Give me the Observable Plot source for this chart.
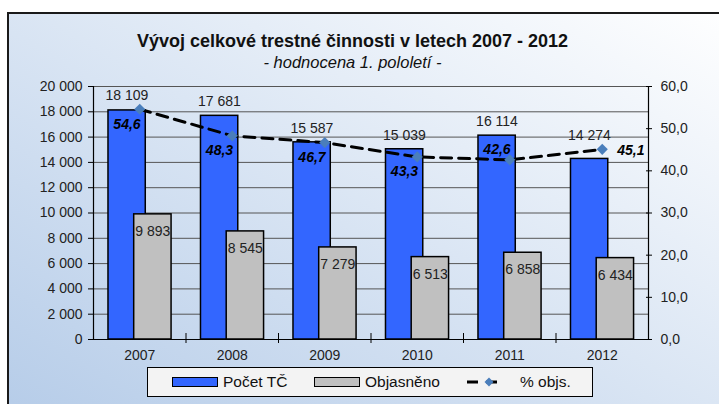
<!DOCTYPE html>
<html>
<head>
<meta charset="utf-8">
<script src="https://cdn.jsdelivr.net/npm/d3@7"></script>
<script src="https://cdn.jsdelivr.net/npm/@observablehq/plot@0.6"></script>
<style>
  html, body { margin: 0; padding: 0; background: #fff; }
  #wrap { position: relative; width: 719px; height: 404px; overflow: hidden; font-family: "Liberation Sans", Arial, sans-serif; }
  #frame { position: absolute; left: 7px; top: 12px; width: 730px; height: 420px; border-top: 2px solid #1a1a1a; border-left: 2px solid #1a1a1a; background: linear-gradient(to top right, #b4cbe8, #ffffff); }
  #title { position: absolute; left: 0; width: 705px; top: 31px; text-align: center; font-weight: bold; font-size: 18px; color: #111; }
  #subtitle { position: absolute; left: 0; width: 705px; top: 53px; text-align: center; font-style: italic; font-size: 16.5px; color: #111; }
  #chart { position: absolute; left: 0; top: 0; }
  #legend { position: absolute; left: 147px; top: 367px; width: 444px; height: 28px; border: 1px solid #000; background: #f3f3f3; font-size: 15.5px; color: #111; }
  .sw { position: absolute; top: 9px; width: 44px; height: 8px; border: 1.5px solid #000; }
  .lt { position: absolute; top: 5px; white-space: nowrap; }
</style>
</head>
<body>
<div id="wrap">
  <div id="frame"></div>
  <div id="chart"></div>
  <div id="title">Vývoj celkové trestné činnosti v letech 2007 - 2012</div>
  <div id="subtitle">- hodnocena 1. pololetí -</div>
  <div id="legend"></div>
</div>
<script>
// ---- data ----
const years = ["2007", "2008", "2009", "2010", "2011", "2012"];
const pocetTC = [18109, 17681, 15587, 15039, 16114, 14274];
const objasneno = [9893, 8545, 7279, 6513, 6858, 6434];
const pctObjs = [54.6, 48.3, 46.7, 43.3, 42.6, 45.1];
const leftTicks = [0, 2000, 4000, 6000, 8000, 10000, 12000, 14000, 16000, 18000, 20000];
const rightTicks = [0, 10, 20, 30, 40, 50, 60];
const seriesNames = ["Počet TČ", "Objasněno", "% objs."];
const colors = {pocet: "#3366FF", obj: "#C0C0C0", line: "#000000", marker: "#4A7EBB"};

// ---- derived ----
const leftMax = 20000, rightMax = 60;
const ratio = leftMax / rightMax;
const rows = years.map((y, i) => ({i, year: y, pocet: pocetTC[i], obj: objasneno[i], pct: pctObjs[i], pctY: pctObjs[i] * ratio}));
const loc = d3.formatLocale({decimal: ",", thousands: " ", grouping: [3], currency: ["", ""]});
const fmtInt = loc.format(",d");
const fmt1 = loc.format(".1f");
const bounds = d3.range(0.5, years.length - 0.5, 1);

const font = "Liberation Sans, Arial, sans-serif";

const plot = Plot.plot({
  width: 719,
  height: 365,
  marginTop: 86,
  marginBottom: 26,
  marginLeft: 93,
  marginRight: 71,
  style: {background: "transparent", fontFamily: font, fontSize: "14px", color: "#222", overflow: "visible"},
  x: {type: "linear", domain: [-0.5, years.length - 0.5], label: null},
  y: {domain: [0, leftMax], label: null},
  marks: [
    Plot.ruleY(leftTicks.slice(1), {stroke: "#555", strokeWidth: 1}),
    Plot.rectY(rows, {x1: d => d.i - 0.338, x2: d => d.i + 0.065, y1: 0, y2: "pocet", fill: colors.pocet, stroke: "#000", strokeWidth: 1.5}),
    Plot.rectY(rows, {x1: d => d.i - 0.06, x2: d => d.i + 0.344, y1: 0, y2: "obj", fill: colors.obj, stroke: "#000", strokeWidth: 1.5}),
    Plot.ruleY([0], {stroke: "#000", strokeWidth: 1.2}),
    Plot.ruleX([-0.5, years.length - 0.5], {stroke: "#000", strokeWidth: 1.2}),
    Plot.axisX({ticks: bounds, tickSize: 10, dy: -6, tickFormat: () => "", stroke: "#000", label: null}),
    Plot.axisX({ticks: d3.range(years.length), tickSize: 0, tickPadding: 11, tickFormat: i => years[i], fontSize: 14, fill: "#222", label: null}),
    Plot.axisY({ticks: leftTicks, tickSize: 5, tickPadding: 6, tickFormat: fmtInt, fontSize: 14, fill: "#222", stroke: "#000", label: null}),
    Plot.axisY({anchor: "right", ticks: rightTicks.map(v => v * ratio), tickSize: 6, dx: -3, tickPadding: 9, tickFormat: v => fmt1(v / ratio), fontSize: 14, fill: "#222", stroke: "#000", label: null}),
    Plot.line(rows, {x: "i", y: "pctY", stroke: colors.line, strokeWidth: 3, strokeDasharray: "11,7"}),
    Plot.dot(rows, {x: "i", y: "pctY", symbol: "diamond2", r: 5, fill: colors.marker, stroke: "none"}),
    Plot.text(rows, {x: d => d.i - 0.138, y: d => Math.max(d.pocet, d.pctY), dy: -14, text: d => fmtInt(d.pocet), fontSize: 14, fill: "#222"}),
    Plot.text(rows, {x: d => d.i + 0.142, y: "obj", dy: 17, text: d => fmtInt(d.obj), fontSize: 14, fill: "#222"}),
    Plot.text(rows.filter(d => d.i < 4), {x: d => d.i - 0.138, y: "pctY", dy: 15, text: d => fmt1(d.pct), fontSize: 14, fontWeight: "bold", fontStyle: "italic", fill: "#000"}),
    Plot.text(rows.filter(d => d.i === 4), {x: d => d.i - 0.138, y: "pctY", dy: -10, text: d => fmt1(d.pct), fontSize: 14, fontWeight: "bold", fontStyle: "italic", fill: "#000"}),
    Plot.text(rows.filter(d => d.i === 5), {x: "i", y: "pctY", dx: 15, dy: 1, textAnchor: "start", text: d => fmt1(d.pct), fontSize: 14, fontWeight: "bold", fontStyle: "italic", fill: "#000"})
  ]
});
document.getElementById("chart").appendChild(plot);

// ---- legend ----
const lg = document.getElementById("legend");
lg.innerHTML = `
  <div class="sw" style="left:24px;background:${colors.pocet}"></div>
  <div class="lt" style="left:75px">${seriesNames[0]}</div>
  <div class="sw" style="left:166px;background:${colors.obj}"></div>
  <div class="lt" style="left:217px">${seriesNames[1]}</div>
  <svg style="position:absolute;left:319px;top:8px" width="38" height="12">
    <line x1="0" y1="6" x2="37" y2="6" stroke="${colors.line}" stroke-width="3" stroke-dasharray="11,8"></line>
    <polygon points="22,1.5 26.5,6 22,10.5 17.5,6" fill="${colors.marker}"></polygon>
  </svg>
  <div class="lt" style="left:372px">${seriesNames[2]}</div>`;
</script>
</body>
</html>
